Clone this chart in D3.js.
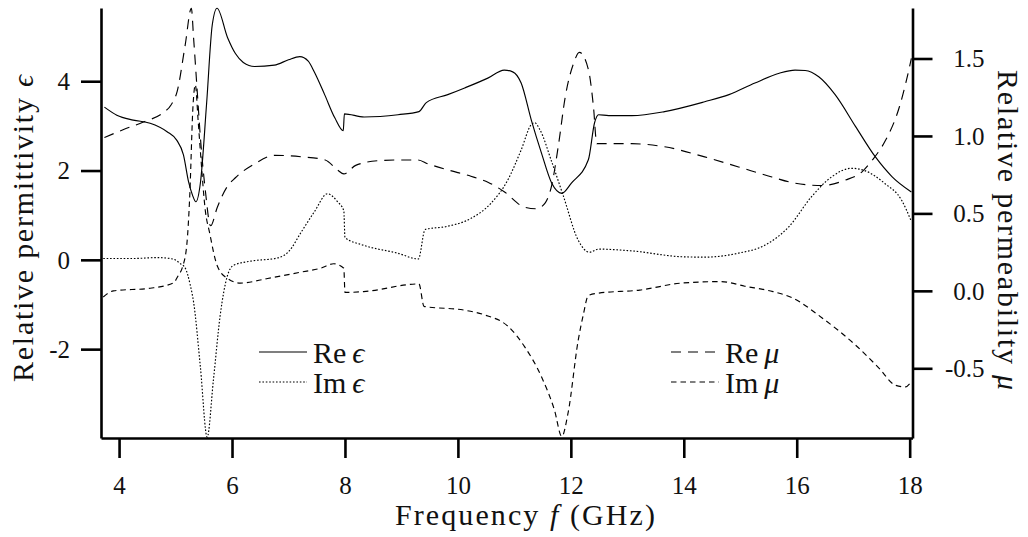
<!DOCTYPE html>
<html>
<head>
<meta charset="utf-8">
<script src="https://cdn.jsdelivr.net/npm/d3@7"></script>
<style>
  html, body { margin: 0; padding: 0; background: #fff; }
  svg { display: block; }
</style>
</head>
<body>
<script>
// ---------------- data ----------------
const xTicks = [4, 6, 8, 10, 12, 14, 16, 18];
const epsTicks = [-2, 0, 2, 4];
const muTicks = [-0.5, 0.0, 0.5, 1.0, 1.5];
const freqDomain = [3.68, 18.05];
const epsDomain = [-3.99, 5.64];
const muDomain = [-0.95, 1.826];

// [frequency GHz, value]
const reEps = [[3.74,3.42],[3.96,3.24],[4.25,3.13],[4.55,3.06],[4.85,2.87],[5.02,2.68],[5.14,2.35],[5.23,1.75],[5.30,1.45],[5.36,1.30],[5.44,1.72],[5.55,3.5],[5.65,5.26],[5.735,5.635],[5.92,4.98],[6.06,4.62],[6.2,4.42],[6.4,4.33],[6.75,4.36],[7.0,4.48],[7.2,4.55],[7.35,4.45],[7.46,4.2],[7.64,3.70],[7.82,3.18],[7.97,2.89],[7.99,3.27],[8.34,3.2],[8.94,3.25],[9.31,3.32],[9.44,3.52],[9.82,3.7],[10.12,3.85],[10.53,4.07],[10.82,4.25],[10.97,4.21],[11.12,3.96],[11.3,3.13],[11.48,2.39],[11.66,1.72],[11.84,1.49],[12.01,1.72],[12.31,2.24],[12.42,3.07],[12.49,3.25],[12.67,3.23],[13.08,3.23],[13.66,3.32],[14.37,3.54],[14.8,3.7],[15.26,3.96],[15.69,4.18],[15.97,4.25],[16.15,4.24],[16.39,4.1],[16.68,3.7],[17.04,2.99],[17.39,2.31],[17.69,1.86],[18.03,1.52]];

const imEps = [[3.72,0.03],[4.25,0.03],[4.67,0.05],[4.95,0.02],[5.08,-0.08],[5.17,-0.18],[5.26,-0.56],[5.32,-0.95],[5.44,-2.4],[5.56,-3.97],[5.67,-2.7],[5.79,-1.25],[5.92,-0.35],[6.03,-0.12],[6.33,-0.03],[6.8,0.04],[7.0,0.18],[7.23,0.63],[7.46,1.08],[7.69,1.48],[7.87,1.30],[7.98,1.1],[8.0,0.5],[8.32,0.33],[8.93,0.15],[9.3,0.02],[9.42,0.68],[9.81,0.75],[10.22,0.92],[10.58,1.26],[10.88,1.78],[11.12,2.46],[11.3,3.03],[11.36,3.07],[11.45,2.92],[11.66,2.2],[11.87,1.42],[12.13,0.44],[12.33,0.17],[12.49,0.24],[13.08,0.2],[13.96,0.07],[14.37,0.06],[14.97,0.15],[15.44,0.33],[15.86,0.74],[16.26,1.41],[16.62,1.86],[16.97,2.05],[17.2,2.0],[17.56,1.71],[17.86,1.33],[18.02,0.89]];

const reMu = [[3.74,0.99],[4.07,1.04],[4.43,1.09],[4.78,1.15],[4.92,1.2],[5.03,1.29],[5.17,1.585],[5.28,1.824],[5.32,1.63],[5.38,1.31],[5.44,0.99],[5.53,0.64],[5.62,0.42],[5.74,0.54],[5.91,0.67],[6.06,0.73],[6.4,0.82],[6.76,0.875],[7.24,0.865],[7.65,0.845],[7.87,0.78],[7.98,0.755],[8.19,0.81],[8.58,0.84],[8.94,0.845],[9.29,0.845],[9.47,0.82],[9.83,0.78],[10.23,0.74],[10.54,0.70],[10.82,0.64],[11.18,0.54],[11.39,0.53],[11.55,0.57],[11.66,0.68],[11.78,0.94],[11.9,1.25],[12.05,1.47],[12.15,1.54],[12.31,1.43],[12.4,1.19],[12.46,0.95],[12.67,0.95],[13.08,0.95],[13.66,0.93],[14.37,0.865],[14.97,0.80],[15.56,0.735],[15.97,0.695],[16.45,0.68],[16.86,0.715],[17.16,0.77],[17.34,0.845],[17.57,0.97],[17.82,1.19],[17.93,1.34],[18.03,1.5]];

const imMu = [[3.72,-0.04],[3.9,0.0],[4.55,0.017],[4.96,0.05],[5.05,0.1],[5.12,0.15],[5.2,0.3],[5.25,0.6],[5.31,1.2],[5.35,1.33],[5.40,1.1],[5.44,0.9],[5.53,0.51],[5.6,0.38],[5.74,0.16],[5.92,0.08],[6.15,0.05],[6.63,0.08],[7.21,0.12],[7.57,0.146],[7.8,0.175],[7.98,0.146],[8.0,-0.01],[8.33,-0.005],[9.31,0.045],[9.4,-0.1],[10.12,-0.125],[10.47,-0.155],[10.89,-0.23],[11.18,-0.36],[11.48,-0.555],[11.71,-0.77],[11.84,-0.94],[11.95,-0.79],[12.13,-0.32],[12.22,-0.155],[12.31,-0.03],[12.49,-0.015],[13.22,0.005],[13.96,0.05],[14.66,0.06],[15.08,0.03],[15.58,-0.005],[15.92,-0.045],[16.45,-0.175],[17.04,-0.35],[17.46,-0.5],[17.75,-0.61],[17.93,-0.62],[18.0,-0.6]];

// ---------------- layout ----------------
const W = 1028, H = 537;
const plot = { left: 101, right: 912.5, top: 8, bottom: 438 };
const FONT = "'Liberation Serif', 'Times New Roman', Tinos, 'DejaVu Serif', 'Nimbus Roman', FreeSerif, 'Noto Serif', serif";

const svg = d3.select("body").append("svg").attr("width", W).attr("height", H)
  .style("font-family", FONT);

const x = d3.scaleLinear().domain(freqDomain).range([plot.left, plot.right]);
const yE = d3.scaleLinear().domain(epsDomain).range([plot.bottom, plot.top]);
const yM = d3.scaleLinear().domain(muDomain).range([plot.bottom, plot.top]);

const axisStroke = 2.6;
function styleAxis(g) {
  g.attr("font-family", null).attr("font-size", null);
  g.select(".domain").attr("stroke", "#000").attr("stroke-width", axisStroke);
  g.selectAll(".tick line").attr("stroke", "#000").attr("stroke-width", axisStroke);
  g.selectAll(".tick text").style("font-family", FONT).style("font-size", "25px").attr("fill", "#111");
}

// bottom axis
const gx = svg.append("g").attr("transform", `translate(0,${plot.bottom})`)
  .call(d3.axisBottom(x).tickValues(xTicks).tickSize(20).tickSizeOuter(0).tickFormat(d => d));
styleAxis(gx);
gx.selectAll(".tick text").attr("y", 56).attr("dy", 0);

// left axis
const gl = svg.append("g").attr("transform", `translate(${plot.left},0)`)
  .call(d3.axisLeft(yE).tickValues(epsTicks).tickSize(20).tickSizeOuter(0).tickFormat(d => String(d)));
styleAxis(gl);
gl.selectAll(".tick text").attr("x", -31).attr("dy", "0.33em");

// right axis
const gr = svg.append("g").attr("transform", `translate(${plot.right},0)`)
  .call(d3.axisRight(yM).tickValues(muTicks).tickSize(20).tickSizeOuter(0).tickFormat(d => d.toFixed(1)));
styleAxis(gr);
gr.selectAll(".tick text").attr("x", 72).attr("text-anchor", "end").attr("dy", "0.33em");

// curves
const lineE = d3.line().x(d => x(d[0])).y(d => yE(d[1])).curve(d3.curveMonotoneX);
const lineM = d3.line().x(d => x(d[0])).y(d => yM(d[1])).curve(d3.curveMonotoneX);

const series = [
  { data: reEps, gen: lineE, dash: null, label: "Re", sym: "ϵ" },
  { data: imEps, gen: lineE, dash: "1.6,1.8", label: "Im", sym: "ϵ" },
  { data: reMu, gen: lineM, dash: "10,7", label: "Re", sym: "μ" },
  { data: imMu, gen: lineM, dash: "5.5,4", label: "Im", sym: "μ" }
];

svg.append("clipPath").attr("id", "clip").append("rect")
  .attr("x", plot.left).attr("y", plot.top - 2)
  .attr("width", plot.right - plot.left).attr("height", plot.bottom - plot.top + 2);

series.forEach(s => {
  svg.append("path")
    .attr("d", s.gen(s.data))
    .attr("fill", "none")
    .attr("stroke", "#000")
    .attr("stroke-width", 1.15)
    .attr("stroke-dasharray", s.dash)
    .attr("clip-path", "url(#clip)");
});

// legends
const legends = [
  { x0: 259, items: [series[0], series[1]] },
  { x0: 671, items: [series[2], series[3]] }
];
legends.forEach(L => {
  L.items.forEach((s, i) => {
    const ly = 352 + i * 30;
    svg.append("line").attr("x1", L.x0).attr("x2", L.x0 + 48)
      .attr("y1", ly).attr("y2", ly)
      .attr("stroke", "#000").attr("stroke-width", 1.15)
      .attr("stroke-dasharray", s.dash);
    const t = svg.append("text").attr("x", L.x0 + 54).attr("y", ly + 11)
      .style("font-family", FONT).style("font-size", "30px").attr("fill", "#111");
    t.append("tspan").text(s.label + "\u2009");
    t.append("tspan").attr("font-style", "italic").text(s.sym);
  });
});

// axis labels
const xl = svg.append("text").attr("x", 525).attr("y", 525)
  .attr("text-anchor", "middle").style("font-family", FONT).style("font-size", "30px").attr("fill", "#111")
  .attr("textLength", 260).attr("lengthAdjust", "spacing");
xl.append("tspan").text("Frequency ");
xl.append("tspan").attr("font-style", "italic").text("f");
xl.append("tspan").text(" (GHz)");

const yl = svg.append("text").attr("transform", "translate(33,228.5) rotate(-90)")
  .attr("text-anchor", "middle").style("font-family", FONT).style("font-size", "30px").attr("fill", "#111")
  .attr("textLength", 307).attr("lengthAdjust", "spacing");
yl.append("tspan").text("Relative permittivity ");
yl.append("tspan").attr("font-style", "italic").text("ϵ");

const yr = svg.append("text").attr("transform", "translate(998,230) rotate(90)")
  .attr("text-anchor", "middle").style("font-family", FONT).style("font-size", "30px").attr("fill", "#111")
  .attr("textLength", 320).attr("lengthAdjust", "spacing");
yr.append("tspan").text("Relative permeability ");
yr.append("tspan").attr("font-style", "italic").text("μ");
</script>
</body>
</html>
